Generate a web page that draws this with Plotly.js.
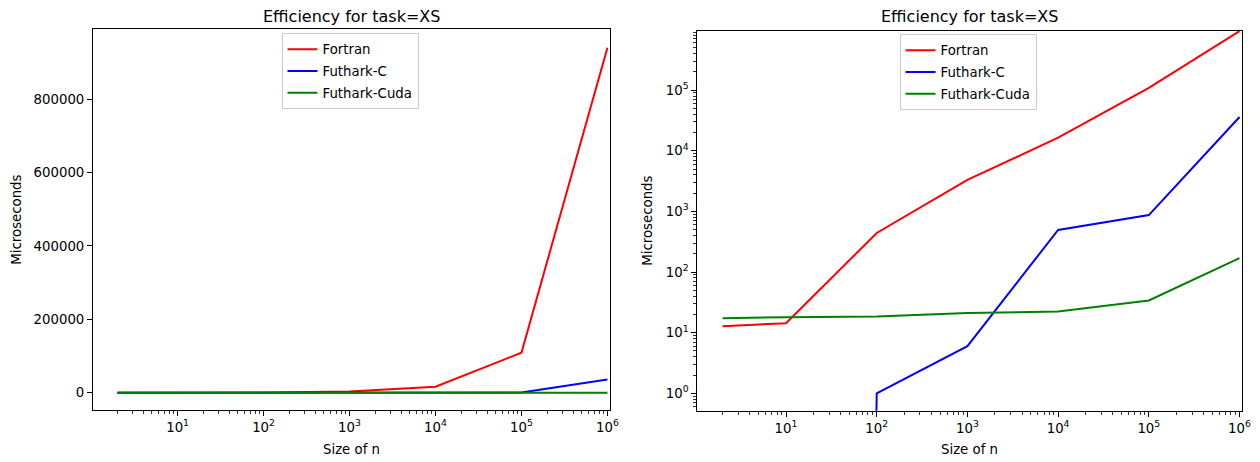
<!DOCTYPE html>
<html>
<head>
<meta charset="utf-8">
<script src="https://cdn.plot.ly/plotly-3.0.1.min.js"></script>
<style>
html, body { margin: 0; padding: 0; background: #fff; }
#chart { width: 1260px; height: 462px; }
</style>
</head>
<body>
<div id="chart"></div>
<script>
// ---- data ----
const sizes = [2, 10, 100, 1000, 10000, 100000, 1000000];
const fortran = [12.8, 14.3, 440, 3300, 16400, 109000, 940000];
const futharkC = [0, 0, 1, 6, 495, 870, 36000];
const futharkCuda = [17.3, 18, 18.4, 21, 22.3, 34, 170];

const seriesNames = ['Fortran', 'Futhark-C', 'Futhark-Cuda'];
const seriesColors = ['#ff0000', '#0000ff', '#008000'];

const xTickVals = [10, 100, 1000, 10000, 100000, 1000000];
const xTickText = ['10<sup>1</sup>', '10<sup>2</sup>', '10<sup>3</sup>', '10<sup>4</sup>', '10<sup>5</sup>', '10<sup>6</sup>'];
const yLinTickVals = [0, 200000, 400000, 600000, 800000];
const yLogTickVals = [1, 10, 100, 1000, 10000, 100000];
const yLogTickText = ['10<sup>0</sup>', '10<sup>1</sup>', '10<sup>2</sup>', '10<sup>3</sup>', '10<sup>4</sup>', '10<sup>5</sup>'];

const titleText = 'Efficiency for task=XS';
const xLabel = 'Size of n';
const yLabel = 'Microseconds';

// ---- build ----
const FONT = 'DejaVu Sans, Liberation Sans, sans-serif';
const W = 1260, H = 462;
const allSeries = [fortran, futharkC, futharkCuda];

// matplotlib-style clipping of non-positive values on a log axis
const clipLog = v => (v > 0 ? v : 1e-100);

const traces = [];
allSeries.forEach((vals, i) => {
  traces.push({
    x: sizes, y: vals, type: 'scatter', mode: 'lines',
    name: seriesNames[i], line: {color: seriesColors[i], width: 2},
    xaxis: 'x', yaxis: 'y', legend: 'legend', legendgroup: 'L' + i, hoverinfo: 'x+y'
  });
});
allSeries.forEach((vals, i) => {
  traces.push({
    x: sizes, y: vals.map(clipLog), type: 'scatter', mode: 'lines',
    name: seriesNames[i], line: {color: seriesColors[i], width: 2},
    xaxis: 'x2', yaxis: 'y2', legend: 'legend2', legendgroup: 'R' + i, hoverinfo: 'x+y'
  });
});

const px = v => v / W;
const py = v => (H - v) / H;

const baseAxis = {
  showline: true, mirror: true, linecolor: '#000', linewidth: 1,
  showgrid: false, zeroline: false,
  ticks: 'outside', ticklen: 5, tickwidth: 1, tickcolor: '#000',
  tickfont: {family: FONT, size: 13.3, color: '#000'},
  fixedrange: true
};
const minorLog = {ticks: 'outside', ticklen: 3, tickwidth: 0.8, tickcolor: '#000', dtick: 'D1', showgrid: false};

const L = {x0: 93, x1: 610, y0: 29.3, y1: 410};
const R = {x0: 697.3, x1: 1241.7, y0: 30.7, y1: 410.7};

const legendBase = {
  xanchor: 'center', yanchor: 'top',
  bgcolor: 'rgba(255,255,255,0.8)', bordercolor: '#cccccc', borderwidth: 1,
  font: {family: FONT, size: 13.3, color: '#000'},
  traceorder: 'grouped', tracegroupgap: 1.5
};

const layout = {
  width: W, height: H,
  margin: {l: 0, r: 0, t: 0, b: 0},
  paper_bgcolor: '#fff', plot_bgcolor: '#fff',
  showlegend: true,
  xaxis: Object.assign({}, baseAxis, {
    type: 'log', domain: [px(L.x0), px(L.x1)], range: [0.016, 6.03],
    tickmode: 'array', tickvals: xTickVals, ticktext: xTickText,
    minor: minorLog, anchor: 'y'
  }),
  yaxis: Object.assign({}, baseAxis, {
    type: 'linear', domain: [py(L.y1), py(L.y0)], range: [-47000, 990000],
    tickmode: 'array', tickvals: yLinTickVals, tickformat: 'd', anchor: 'x'
  }),
  xaxis2: Object.assign({}, baseAxis, {
    type: 'log', domain: [px(R.x0), px(R.x1)], range: [0.022, 6.024],
    tickmode: 'array', tickvals: xTickVals, ticktext: xTickText,
    minor: minorLog, anchor: 'y2'
  }),
  yaxis2: Object.assign({}, baseAxis, {
    type: 'log', domain: [py(R.y1), py(R.y0)], range: [-0.287, 5.98],
    tickmode: 'array', tickvals: yLogTickVals, ticktext: yLogTickText,
    minor: minorLog, anchor: 'x2'
  }),
  legend: Object.assign({}, legendBase, {x: px(350), y: py(33)}),
  legend2: Object.assign({}, legendBase, {x: px(968), y: py(34)}),
  annotations: [
    {text: titleText, x: px((L.x0 + L.x1) / 2), y: py(16), xref: 'paper', yref: 'paper',
     xanchor: 'center', yanchor: 'middle', showarrow: false, font: {family: FONT, size: 16, color: '#000'}},
    {text: titleText, x: px((R.x0 + R.x1) / 2), y: py(16), xref: 'paper', yref: 'paper',
     xanchor: 'center', yanchor: 'middle', showarrow: false, font: {family: FONT, size: 16, color: '#000'}},
    {text: xLabel, x: px((L.x0 + L.x1) / 2), y: py(449), xref: 'paper', yref: 'paper',
     xanchor: 'center', yanchor: 'middle', showarrow: false, font: {family: FONT, size: 13.3, color: '#000'}},
    {text: xLabel, x: px((R.x0 + R.x1) / 2), y: py(449), xref: 'paper', yref: 'paper',
     xanchor: 'center', yanchor: 'middle', showarrow: false, font: {family: FONT, size: 13.3, color: '#000'}},
    {text: yLabel, x: px(17), y: py((L.y0 + L.y1) / 2), xref: 'paper', yref: 'paper', textangle: -90,
     xanchor: 'center', yanchor: 'middle', showarrow: false, font: {family: FONT, size: 13.3, color: '#000'}},
    {text: yLabel, x: px(648), y: py((R.y0 + R.y1) / 2), xref: 'paper', yref: 'paper', textangle: -90,
     xanchor: 'center', yanchor: 'middle', showarrow: false, font: {family: FONT, size: 13.3, color: '#000'}}
  ]
};

Plotly.newPlot('chart', traces, layout, {displayModeBar: false, staticPlot: true});
</script>
</body>
</html>
